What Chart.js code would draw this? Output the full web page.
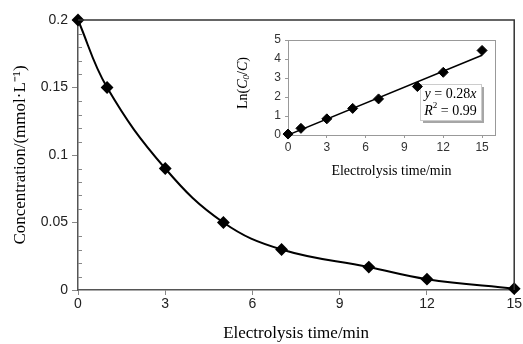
<!DOCTYPE html>
<html>
<head>
<meta charset="utf-8">
<script src="https://cdn.jsdelivr.net/npm/chart.js@4.4.1/dist/chart.umd.min.js"></script>
<style>
  body { margin: 0; background: #fff; }
  #wrap { position: relative; width: 523px; height: 344px; }
  #main { position: absolute; left: 0; top: 0; }
  #inset { position: absolute; left: 230px; top: 22px; }
</style>
</head>
<body>
<div id="wrap">
  <canvas id="main" width="523" height="344"></canvas>
  <canvas id="inset" width="286" height="160"></canvas>
</div>
<script>
// main curve
let times = [0, 1, 3, 5, 7, 10, 12, 15];
let conc = [0.2, 0.15, 0.09, 0.05, 0.03, 0.017, 0.008, 0.001];
let mainXTicks = [0, 3, 6, 9, 12, 15];
let mainYTicks = [0, 0.05, 0.1, 0.15, 0.2];

// inset: ln(C0/C) and fit line
let lnRatio = [0.05, 0.35, 0.85, 1.4, 1.9, 2.55, 3.3, 4.45];
let fitX = [0, 15];
let fitY = [0, 4.2];
let insetYTicks = [0, 1, 2, 3, 4, 5];

let serif = '"Liberation Serif", "Times New Roman", serif';
let sans = '"Liberation Sans", Arial, sans-serif';

function pts(xs, ys) {
  return xs.map((x, i) => ({x: x, y: ys[i]}));
}

// box + minor ticks for the main chart
let mainDeco = {
  id: 'mainDeco',
  afterDraw(chart) {
    let ctx = chart.ctx;
    let a = chart.chartArea;
    let ys = chart.scales.y;
    ctx.save();
    ctx.strokeStyle = '#333';
    ctx.lineWidth = 1.5;
    ctx.beginPath();
    ctx.moveTo(a.left, a.top);
    ctx.lineTo(a.right, a.top);
    ctx.lineTo(a.right, a.bottom);
    ctx.stroke();
    ctx.strokeStyle = '#888';
    ctx.lineWidth = 1;
    for (let i = 1; i < 20; i++) {
      if (i % 5 == 0) continue;
      let py = Math.round(ys.getPixelForValue(i * 0.01)) + 0.5;
      ctx.beginPath();
      ctx.moveTo(a.left, py);
      ctx.lineTo(a.left + 4, py);
      ctx.stroke();
    }
    ctx.restore();
  }
};

let mainConfig = {
  type: 'scatter',
  data: {
    datasets: [{
      data: pts(times, conc),
      showLine: true,
      tension: 0.4,
      borderColor: '#000',
      borderWidth: 2,
      backgroundColor: '#000',
      pointStyle: 'rectRot',
      pointRadius: 5,
      clip: false
    }]
  },
  options: {
    responsive: false,
    animation: false,
    layout: { padding: { left: 10, top: 20, right: 7, bottom: 0 } },
    plugins: { legend: { display: false }, tooltip: { enabled: false } },
    scales: {
      x: {
        type: 'linear', min: 0, max: 15,
        afterBuildTicks: s => { s.ticks = mainXTicks.map(v => ({value: v})); },
        afterFit: s => { s.height = 54; },
        grid: { drawOnChartArea: false, tickLength: 5, color: '#888' },
        border: { color: '#555', width: 1.5 },
        ticks: { color: '#222', font: { family: sans, size: 14 }, padding: 1 },
        title: { display: true, text: 'Electrolysis time/min', color: '#000',
                 font: { family: serif, size: 17 }, padding: { top: 0, bottom: 0 } }
      },
      y: {
        type: 'linear', min: 0, max: 0.2,
        afterBuildTicks: s => { s.ticks = mainYTicks.map(v => ({value: v})); },
        afterFit: s => { s.width = 68; },
        grid: { drawOnChartArea: false, tickLength: 6, color: '#888' },
        border: { color: '#555', width: 1.5 },
        ticks: { color: '#222', font: { family: sans, size: 14 }, padding: 4,
                 callback: v => String(+v.toFixed(2)) },
        title: { display: true, text: 'Concentration/(mmol·L⁻¹)', color: '#000',
                 font: { family: serif, size: 17 }, padding: { top: 0, bottom: 2 } }
      }
    }
  },
  plugins: [mainDeco]
};
new Chart(document.getElementById('main'), mainConfig);

// draw text made of plain / italic pieces
function drawRich(ctx, parts, x, y, size) {
  let total = 0;
  parts.forEach(p => {
    ctx.font = (p.it ? 'italic ' : '') + (p.sub || p.sup ? size * 0.65 : size) + 'px ' + serif;
    p.w = ctx.measureText(p.t).width;
    total += p.w;
  });
  let cx = x - total / 2;
  parts.forEach(p => {
    ctx.font = (p.it ? 'italic ' : '') + (p.sub || p.sup ? size * 0.65 : size) + 'px ' + serif;
    let dy = p.sub ? size * 0.25 : (p.sup ? -size * 0.35 : 0);
    ctx.fillText(p.t, cx, y + dy);
    cx += p.w;
  });
}

let insetDeco = {
  id: 'insetDeco',
  beforeDatasetsDraw(chart) {
    let ctx = chart.ctx;
    let a = chart.chartArea;
    ctx.save();
    ctx.strokeStyle = '#999';
    ctx.lineWidth = 1;
    ctx.strokeRect(a.left + 0.5, a.top + 0.5, a.right - a.left, a.bottom - a.top);

    // axis title
    ctx.fillStyle = '#000';
    ctx.textBaseline = 'middle';
    ctx.textAlign = 'left';
    ctx.save();
    ctx.translate(13, 61);
    ctx.rotate(-Math.PI / 2);
    drawRich(ctx, [{t: 'Ln('}, {t: 'C', it: true}, {t: '0', it: true, sub: true},
                   {t: '/'}, {t: 'C', it: true}, {t: ')'}], 0, 0, 14);
    ctx.restore();

    // equation box
    let bx = a.left + 132, by = a.top + 44, bw = 61, bh = 36;
    ctx.fillStyle = 'rgba(0,0,0,0.35)';
    ctx.fillRect(bx + 3, by + 3, bw, bh);
    ctx.fillStyle = '#fff';
    ctx.fillRect(bx, by, bw, bh);
    ctx.strokeStyle = '#ccc';
    ctx.strokeRect(bx + 0.5, by + 0.5, bw, bh);
    ctx.fillStyle = '#000';
    drawRich(ctx, [{t: 'y', it: true}, {t: ' = 0.28'}, {t: 'x', it: true}], bx + bw / 2, by + 10, 14);
    drawRich(ctx, [{t: 'R', it: true}, {t: '2', sup: true}, {t: ' = 0.99'}], bx + bw / 2, by + 27, 14);
    ctx.restore();
  }
};

let insetConfig = {
  type: 'scatter',
  data: {
    datasets: [{
      data: pts(times, lnRatio),
      showLine: false,
      backgroundColor: '#000',
      borderColor: '#000',
      pointStyle: 'rectRot',
      pointRadius: 5,
      clip: false
    }, {
      data: pts(fitX, fitY),
      showLine: true,
      borderColor: '#000',
      borderWidth: 1.5,
      pointRadius: 0,
      tension: 0
    }]
  },
  options: {
    responsive: false,
    animation: false,
    layout: { padding: { left: 0, top: 18, right: 21, bottom: 0 } },
    plugins: { legend: { display: false }, tooltip: { enabled: false } },
    scales: {
      x: {
        type: 'linear', min: 0, max: 16,
        afterBuildTicks: s => { s.ticks = mainXTicks.map(v => ({value: v})); },
        afterFit: s => { s.height = 47; },
        grid: { drawOnChartArea: false, tickLength: 3, color: '#999' },
        border: { color: '#999', width: 1 },
        ticks: { color: '#333', font: { family: sans, size: 12 }, padding: 2 },
        title: { display: true, text: 'Electrolysis time/min', color: '#000',
                 font: { family: serif, size: 14 }, padding: { top: 0, bottom: 2 } }
      },
      y: {
        type: 'linear', min: 0, max: 5,
        afterBuildTicks: s => { s.ticks = insetYTicks.map(v => ({value: v})); },
        afterFit: s => { s.width = 58; },
        grid: { drawOnChartArea: false, tickLength: 3, color: '#999' },
        border: { color: '#999', width: 1 },
        ticks: { color: '#333', font: { family: sans, size: 12 }, padding: 4 }
      }
    }
  },
  plugins: [insetDeco]
};
new Chart(document.getElementById('inset'), insetConfig);
</script>
</body>
</html>
